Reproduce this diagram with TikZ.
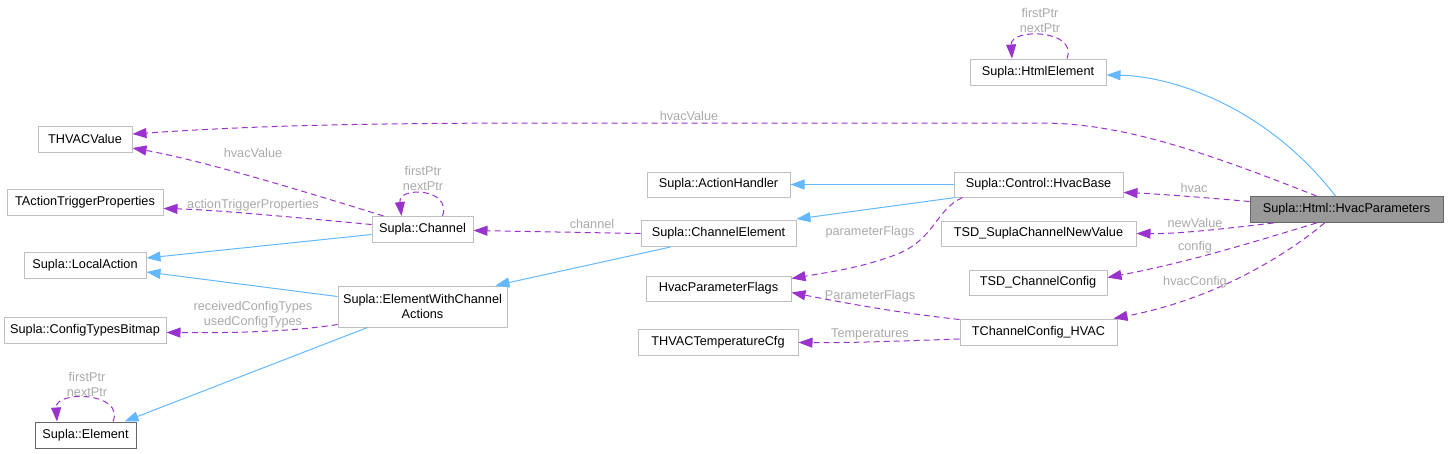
\documentclass[tikz,border=0pt]{standalone}
\usepackage{fontspec}
\setmainfont{Liberation Sans}
\usetikzlibrary{arrows.meta}
\definecolor{edgeblue}{HTML}{63B8FF}
\definecolor{edgepurple}{HTML}{9A32CD}
\definecolor{boxgray}{HTML}{BFBFBF}
\definecolor{darkbox}{HTML}{666666}
\definecolor{labgray}{HTML}{AAAAAA}
\definecolor{hpfill}{HTML}{999999}
\newcommand{\fsz}{\fontsize{12.7}{15}\selectfont}
\begin{document}
\begin{tikzpicture}[x=1pt,y=-1pt,
  box/.style={draw=boxgray, line width=1pt, fill=white, inner sep=0pt, font=\fsz, align=center},
  inh/.style={draw=edgeblue, line width=1pt, -{Triangle[length=14pt,width=10pt]}},
  use/.style={draw=edgepurple, line width=1pt, dash pattern=on 6pt off 4pt, -{Triangle[length=14pt,width=10pt]}},
  lab/.style={text=labgray, font=\fsz, inner sep=0pt, align=center}]
\useasboundingbox (0,0) rectangle (1448,453);

% nodes
\node[box, minimum width=136pt, minimum height=26pt] (html) at (1038,72) {Supla::HtmlElement};
\node[box, minimum width=94pt, minimum height=26pt] (hvacval) at (85,139) {THVACValue};
\node[box, minimum width=156pt, minimum height=26pt] (atp) at (85,202.5) {TActionTriggerProperties};
\node[box, minimum width=101pt, minimum height=26pt] (channel) at (422.5,229.5) {Supla::Channel};
\node[box, minimum width=122pt, minimum height=26pt] (local) at (85,265) {Supla::LocalAction};
\node[box, minimum width=169pt, minimum height=41pt] (ewca) at (422.5,306.5) {Supla::ElementWithChannel\\Actions};
\node[box, minimum width=162pt, minimum height=26pt] (ctb) at (85,330.5) {Supla::ConfigTypesBitmap};
\node[box, draw=darkbox, minimum width=101pt, minimum height=26pt] (element) at (85.5,435) {Supla::Element};
\node[box, minimum width=143pt, minimum height=25pt] (ah) at (718.5,184.5) {Supla::ActionHandler};
\node[box, minimum width=155pt, minimum height=26pt] (ce) at (718.5,233.5) {Supla::ChannelElement};
\node[box, minimum width=145pt, minimum height=25pt] (hpf) at (718.5,288.5) {HvacParameterFlags};
\node[box, minimum width=160pt, minimum height=26pt] (thtc) at (718,342.5) {THVACTemperatureCfg};
\node[box, minimum width=169pt, minimum height=25pt] (hb) at (1038.5,184.5) {Supla::Control::HvacBase};
\node[box, minimum width=195pt, minimum height=25pt] (tsdnv) at (1038.5,233.5) {TSD\_SuplaChannelNewValue};
\node[box, minimum width=138pt, minimum height=25pt] (tsdcc) at (1038,282.5) {TSD\_ChannelConfig};
\node[box, minimum width=157pt, minimum height=26pt] (tcch) at (1038.5,332) {TChannelConfig\_HVAC};
\node[box, draw=darkbox, fill=hpfill, minimum width=193pt, minimum height=26pt] (hp) at (1346.5,209.5) {Supla::Html::HvacParameters};

% edges from HvacParameters
\draw[inh] ([xshift=-11pt]hp.north) .. controls (1265,105) and (1170,76) .. ([yshift=-3pt]html.east);
\draw[use] ([xshift=-30pt]hp.north) .. controls (1200,150) and (1120,123) .. (1040,123) -- (560,123) .. controls (350,123) and (250,126) .. ([yshift=5pt]hvacval.east);
\draw[use] ([yshift=8pt]hp.west) .. controls (1210,198) and (1160,194) .. ([yshift=-8pt]hb.east);
\draw[use] ([xshift=-73pt]hp.south) .. controls (1230,228) and (1180,234) .. (tsdnv.east);
\draw[use] ([xshift=-30pt]hp.south) .. controls (1260,240) and (1190,262) .. ([yshift=-8pt]tsdcc.north east);
\draw[use] ([xshift=-22pt]hp.south) .. controls (1280,260) and (1210,300) .. ([xshift=-4pt]tcch.north east);

% HvacBase
\draw[inh] (hb.west) -- (ah.east);
\draw[inh] ([xshift=2pt]hb.south west) -- ([yshift=1pt]ce.north east);
\draw[use] ([xshift=9pt]hb.south west) .. controls (935,210) and (935,240) .. (895,255) .. controls (860,268) and (830,272) .. ([yshift=-3pt]hpf.north east);

% ChannelElement
\draw[use] (ce.west) -- ([yshift=-1pt]channel.east);
\draw[inh] ([xshift=-48pt]ce.south) -- ([xshift=-12pt]ewca.north east);

% TChannelConfig_HVAC
\draw[use] ([yshift=-1pt]tcch.north west) .. controls (900,313) and (850,304) .. ([yshift=-4pt]hpf.east);
\draw[use] ([yshift=-7pt]tcch.west) .. controls (900,341) and (850,343) .. (thtc.east);

% Channel
\draw[use] ([xshift=12pt]channel.north west) .. controls (300,190) and (200,160) .. ([yshift=-9pt]hvacval.east);
\draw[use] ([yshift=5pt]channel.west) .. controls (300,218) and (220,210) .. ([yshift=-6pt]atp.east);
\draw[use] ([xshift=20pt]channel.north) .. controls (452,188) and (398,186) .. ([xshift=-21pt]channel.north);
\draw[inh] ([yshift=-5pt]channel.west) -- ([yshift=7pt]local.east);

% ElementWithChannelActions
\draw[inh] ([yshift=10pt]ewca.west) -- ([yshift=-7pt]local.east);
\draw[use] ([yshift=-18pt]ewca.west) .. controls (290,332) and (230,333) .. ([yshift=-2pt]ctb.east);
\draw[inh] ([xshift=-55pt]ewca.south) -- ([xshift=-12pt]element.north east);

% Element and HtmlElement self loops
\draw[use] ([xshift=27.5pt]element.north) .. controls (125,392) and (55,390) .. ([xshift=-28.5pt]element.north);
\draw[use] ([xshift=29pt]html.north) .. controls (1078,29) and (1010,28) .. ([xshift=-26pt]html.north);

% labels
\node[lab] (l1) at (689,116) {hvacValue};
\node[lab] (l2) at (1194,188) {hvac};
\node[lab] (l3) at (1195,223) {newValue};
\node[lab] (l4) at (1195,247) {config};
\node[lab] (l5) at (1195,282) {hvacConfig};
\node[lab] (l6) at (870,232) {parameterFlags};
\node[lab] (l7) at (592,224) {channel};
\node[lab] (l8) at (870,296) {ParameterFlags};
\node[lab] (l9) at (870,334) {Temperatures};
\node[lab] (l10) at (253,153) {hvacValue};
\node[lab] (l11) at (253,205) {actionTriggerProperties};
\node[lab] (l12) at (423,178.5) {firstPtr\\nextPtr};
\node[lab] (l13) at (253,314.5) {receivedConfigTypes\\usedConfigTypes};
\node[lab] (l14) at (87,384) {firstPtr\\nextPtr};
\node[lab] (l15) at (1040,20.5) {firstPtr\\nextPtr};
\end{tikzpicture}
\end{document}
